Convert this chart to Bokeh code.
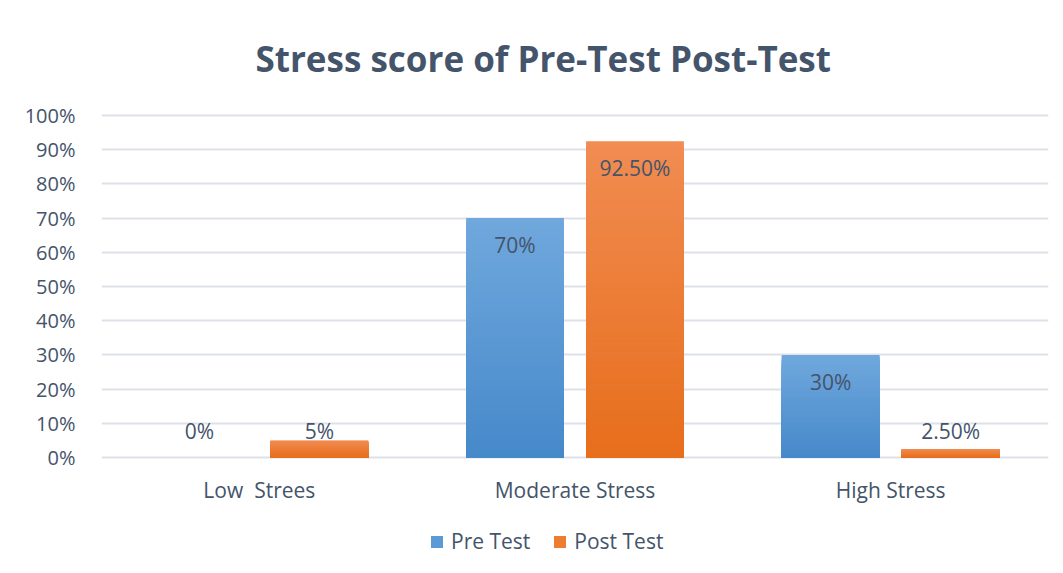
from bokeh.plotting import figure
from bokeh.models import (ColumnDataSource, FactorRange, Range1d, FixedTicker,
                          NumeralTickFormatter, Legend, LegendItem)
from bokeh.transform import dodge
from bokeh.core.properties import value
from bokeh.embed import file_html
from bokeh.resources import INLINE

# ---- data ----
categories = ["Low  Strees", "Moderate Stress", "High Stress"]
pre_test = [0.0, 0.70, 0.30]
post_test = [0.05, 0.925, 0.025]
pre_labels = ["0%", "70%", "30%"]
post_labels = ["5%", "92.50%", "2.50%"]
y_ticks = [0, 0.1, 0.2, 0.3, 0.4, 0.5, 0.6, 0.7, 0.8, 0.9, 1.0]
series_names = ["Pre Test", "Post Test"]
title_text = "Stress score of Pre-Test Post-Test"

FONT = "Open Sans"
TXT = "#44546a"
GRID = "#dde2ea"
PRE_TOP, PRE_BOT = (112, 168, 221), (70, 137, 202)
POST_TOP, POST_BOT = (241, 140, 82), (231, 110, 28)
OFF = 0.19
BW = 0.31

# layout (pixels)
W, H = 1061, 571
ML, MR, MT = 101, 13, 113
Y0_PX, Y100_PX = 457, 115          # where 0% and 100% sit
PX_PER_UNIT = Y0_PX - Y100_PX
Y_TOP = 1 + (Y100_PX - MT) / PX_PER_UNIT
Y_BOT = -(H - Y0_PX) / PX_PER_UNIT


def hexc(c):
    return "#%02x%02x%02x" % tuple(int(round(v)) for v in c)


def gradient_source(cats, vals, top_rgb, bot_rgb, n=60):
    # overlapping bars from 0 up to k/n of the value; tallest (lightest) first
    xs, tops, colors = [], [], []
    for k in range(n, 0, -1):
        f = (k - 0.5) / n
        col = hexc([b + (t - b) * f for t, b in zip(top_rgb, bot_rgb)])
        for c, v in zip(cats, vals):
            if v <= 0:
                continue
            xs.append(c)
            tops.append(v * k / n)
            colors.append(col)
    return ColumnDataSource(dict(cat=xs, top=tops, color=colors))


p = figure(x_range=FactorRange(*categories), y_range=Range1d(Y_BOT, Y_TOP),
           width=W, height=H, output_backend="svg", toolbar_location=None,
           min_border_left=ML, min_border_right=MR, min_border_top=MT,
           min_border_bottom=0, background_fill_color="white",
           border_fill_color="white", outline_line_color=None)
p.x_range.range_padding = 0

p.title.text = title_text
p.title.text_font = FONT
p.title.text_font_size = "35px"
p.title.text_font_style = "bold"
p.title.text_color = TXT
p.title.align = "left"
p.title.offset = 154
p.title.standoff = 64

pre_src = gradient_source(categories, pre_test, PRE_TOP, PRE_BOT)
post_src = gradient_source(categories, post_test, POST_TOP, POST_BOT)
p.vbar(x=dodge("cat", -OFF, range=p.x_range), bottom=0, top="top", width=BW,
       fill_color="color", line_color=None, source=pre_src)
p.vbar(x=dodge("cat", OFF, range=p.x_range), bottom=0, top="top", width=BW,
       fill_color="color", line_color=None, source=post_src)

# legend swatch renderers (zero-height, invisible in the plot)
swatch = ColumnDataSource(dict(cat=[categories[0]], top=[0]))
r_pre = p.vbar(x="cat", bottom=0, top="top", width=BW, source=swatch,
               fill_color="#5b9bd5", line_color=None)
r_post = p.vbar(x="cat", bottom=0, top="top", width=BW, source=swatch,
                fill_color="#ed7d31", line_color=None)


def label_source(vals, labels):
    ys = [max(v, 0.1) for v in vals]
    offs = [13 if v >= 0.1 else -6 for v in vals]
    return ColumnDataSource(dict(cat=categories, y=ys, off=offs, text=labels))


for vals, labels, off in [(pre_test, pre_labels, -OFF), (post_test, post_labels, OFF)]:
    p.text(x=dodge("cat", off, range=p.x_range), y="y", y_offset="off", text="text",
           source=label_source(vals, labels), text_align="center",
           text_baseline="top", text_font=value(FONT), text_font_size="21px",
           text_color=TXT)

# category labels under the bars
cat_src = ColumnDataSource(dict(cat=categories, y=[0] * len(categories),
                                text=[c.replace("  ", " \u00a0") for c in categories]))
p.text(x="cat", y="y", y_offset=32, text="text", source=cat_src,
       text_align="center", text_baseline="middle", text_font=value(FONT),
       text_font_size="21px", text_color=TXT)

p.xaxis.visible = False
p.yaxis.ticker = FixedTicker(ticks=y_ticks)
p.yaxis.formatter = NumeralTickFormatter(format="0%")
ax = p.yaxis[0]
ax.axis_line_color = None
ax.major_tick_line_color = None
ax.minor_tick_line_color = None
ax.major_label_text_font = FONT
ax.major_label_text_font_size = "20px"
ax.major_label_text_color = TXT
ax.major_label_standoff = 20
p.xgrid.grid_line_color = None
p.ygrid.grid_line_color = GRID
p.ygrid.grid_line_width = 2

legend = Legend(items=[LegendItem(label=series_names[0], renderers=[r_pre]),
                       LegendItem(label=series_names[1], renderers=[r_post])],
                orientation="horizontal", location=(328, 16),
                glyph_width=15, glyph_height=15, label_standoff=7, spacing=22,
                label_text_font=FONT, label_text_font_size="21px",
                label_text_color=TXT, border_line_color=None,
                background_fill_alpha=0, padding=4, margin=0)
p.add_layout(legend, "center")

open("out.html", "w").write(file_html(p, INLINE))
